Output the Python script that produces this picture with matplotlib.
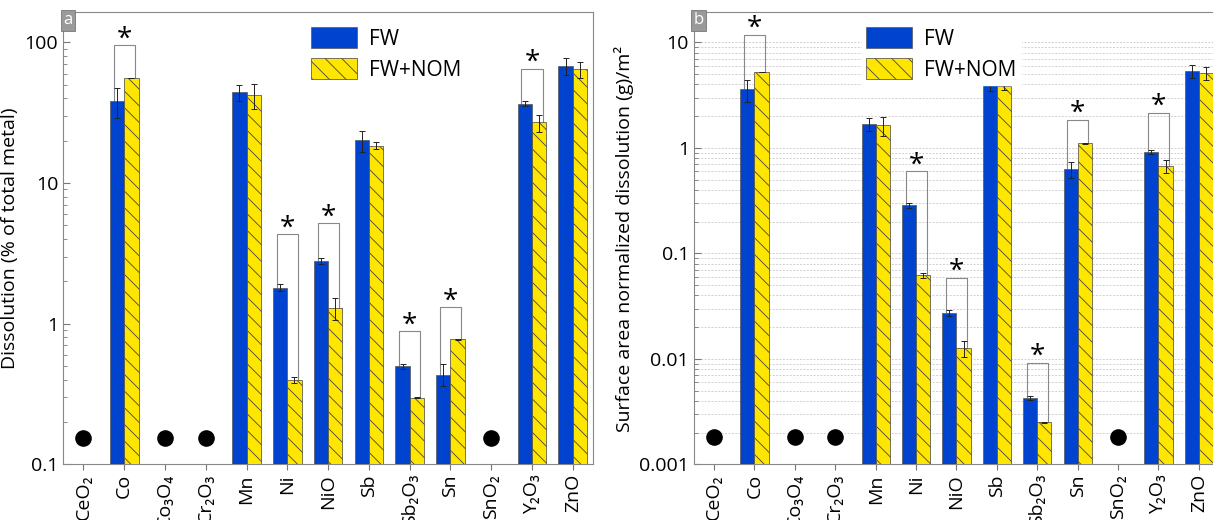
import numpy as np
import matplotlib
matplotlib.use("Agg")
import matplotlib.pyplot as plt
from matplotlib.patches import Patch

plt.rcParams['font.family'] = ['Open Sans', 'DejaVu Sans']
plt.rcParams['hatch.linewidth'] = 0.6

labels = ['CeO₂', 'Co', 'Co₃O₄', 'Cr₂O₃', 'Mn', 'Ni', 'NiO', 'Sb', 'Sb₂O₃',
          'Sn', 'SnO₂', 'Y₂O₃', 'ZnO']
# nan = not dissolved (shown as a dot)
fw_a = [np.nan, 38.5, np.nan, np.nan, 44, 1.80, 2.81, 20.2, 0.50, 0.435, np.nan, 36.6, 68.3]
fw_a_lo = [0, 29, 0, 0, 38, 1.70, 2.64, 16.6, 0.48, 0.36, 0, 35.4, 58.5]
fw_a_hi = [0, 47, 0, 0, 49.6, 1.91, 2.95, 23.4, 0.52, 0.52, 0, 38.0, 77.4]
nom_a = [np.nan, 55.8, np.nan, np.nan, 42.4, 0.40, 1.30, 18.4, 0.298, 0.773, np.nan, 27.1, 65]
nom_a_lo = [0, 55.8, 0, 0, 33.6, 0.38, 1.07, 17.5, 0.296, 0.77, 0, 22.9, 56]
nom_a_hi = [0, 55.8, 0, 0, 50.7, 0.42, 1.52, 19.5, 0.300, 0.776, 0, 30.4, 73]
sig_a = {1: 95, 5: 4.34, 6: 5.2, 8: 0.88, 9: 1.31, 11: 65}
dot_a = 0.155

fw_b = [np.nan, 3.62, np.nan, np.nan, 1.70, 0.285, 0.0274, 4.25, 0.00423, 0.627, np.nan, 0.914, 5.40]
fw_b_lo = [0, 2.73, 0, 0, 1.46, 0.27, 0.0254, 3.49, 0.0041, 0.52, 0, 0.88, 4.57]
fw_b_hi = [0, 4.43, 0, 0, 1.93, 0.30, 0.0293, 4.96, 0.0044, 0.74, 0, 0.95, 6.1]
nom_b = [np.nan, 5.24, np.nan, np.nan, 1.64, 0.0622, 0.0126, 3.84, 0.0025, 1.10, np.nan, 0.674, 5.09]
nom_b_lo = [0, 5.24, 0, 0, 1.29, 0.059, 0.0104, 3.57, 0.00249, 1.09, 0, 0.58, 4.4]
nom_b_hi = [0, 5.24, 0, 0, 1.97, 0.065, 0.0149, 4.13, 0.00251, 1.11, 0, 0.76, 5.8]
sig_b = {1: 11.8, 5: 0.60, 6: 0.059, 8: 0.0092, 9: 1.85, 11: 2.15}
dot_b = 0.0018

blue = '#0043CE'
yellow = '#FFE600'
w = 0.35
x = np.arange(len(labels))


def panel(ax, fw, fwlo, fwhi, nom, nomlo, nomhi, sig, dot, ylim, ylabel, letter, grid, legx):
    fw = np.array(fw); nom = np.array(nom)
    ax.set_yscale('log')
    ax.set_ylim(*ylim)
    ax.set_xlim(-0.5, len(labels) - 0.5)
    if grid:
        ax.grid(True, axis='y', which='both', ls=(0, (2, 1.5)), color='#d0d0d0', lw=0.7, zorder=0)
        ax.set_axisbelow(True)
    ok = ~np.isnan(fw)
    xs = x[ok]
    err_fw = [fw[ok] - np.array(fwlo)[ok], np.array(fwhi)[ok] - fw[ok]]
    err_nom = [nom[ok] - np.array(nomlo)[ok], np.array(nomhi)[ok] - nom[ok]]
    ax.bar(xs - w / 2, fw[ok], w, color=blue, edgecolor='#555555', lw=0.5, zorder=3,
           yerr=err_fw, error_kw=dict(ecolor='#222222', elinewidth=0.7, capsize=2, capthick=0.7))
    ax.bar(xs + w / 2, nom[ok], w, color=yellow, edgecolor='#444444', lw=0.5, hatch='\\\\', zorder=3,
           yerr=err_nom, error_kw=dict(ecolor='#222222', elinewidth=0.7, capsize=2, capthick=0.7))
    ax.scatter(x[~ok], np.full((~ok).sum(), dot), s=120, color='black', zorder=4)
    for i, top in sig.items():
        xl, xr = i - 0.26, i + 0.26
        ax.plot([xl, xl, xr, xr], [fw[i], top, top, nom[i]], color='#888888', lw=0.8, zorder=2)
        ax.annotate('*', (i, top), xytext=(0, -1), textcoords='offset points',
                    ha='center', va='baseline', fontsize=20)
    ax.set_xticks(x)
    ax.set_xticklabels(labels, rotation=90, fontsize=14)
    ax.tick_params(axis='y', which='both', direction='in', labelsize=14, color='#777777')
    ax.tick_params(axis='y', which='major', length=5)
    ax.tick_params(axis='y', which='minor', length=3)
    ax.tick_params(axis='x', direction='out', length=4, color='#777777', pad=3)
    ax.yaxis.set_major_formatter(matplotlib.ticker.FuncFormatter(lambda v, p: '%g' % v))
    ax.yaxis.set_minor_formatter(matplotlib.ticker.NullFormatter())
    for s in ax.spines.values():
        s.set_color('#888888')
    ax.set_ylabel(ylabel, fontsize=14, labelpad=4)
    ax.text(0.0, 1.0, letter, transform=ax.transAxes, ha='left', va='top', color='white',
            fontsize=12, bbox=dict(boxstyle='square,pad=0.15', fc='#9a9a9a', ec='#777777', lw=0.6), zorder=6)
    handles = [Patch(fc=blue, ec='#555555', lw=0.5, label='FW'),
               Patch(fc=yellow, ec='#444444', lw=0.5, hatch='\\\\', label='FW+NOM')]
    leg = ax.legend(handles=handles, loc='upper left', bbox_to_anchor=(legx, 1.0), fontsize=15,
                    frameon=grid, framealpha=1, edgecolor='white', fancybox=False,
                    handlelength=2.2, handleheight=1.2, borderpad=0.2, labelspacing=0.4,
                    handletextpad=0.6)
    leg.set_zorder(7)


fig = plt.figure(figsize=(12.13, 5.2), dpi=100)
ax1 = fig.add_axes([0.052, 0.107, 0.437, 0.869])
ax2 = fig.add_axes([0.572, 0.107, 0.433, 0.869])

panel(ax1, fw_a, fw_a_lo, fw_a_hi, nom_a, nom_a_lo, nom_a_hi, sig_a, dot_a, (0.1, 163),
      'Dissolution (% of total metal)', 'a', False, 0.44)
panel(ax2, fw_b, fw_b_lo, fw_b_hi, nom_b, nom_b_lo, nom_b_hi, sig_b, dot_b, (0.001, 19.2),
      'Surface area normalized dissolution (g)/m²', 'b', True, 0.3)

fig.savefig('out.png', dpi=100)
